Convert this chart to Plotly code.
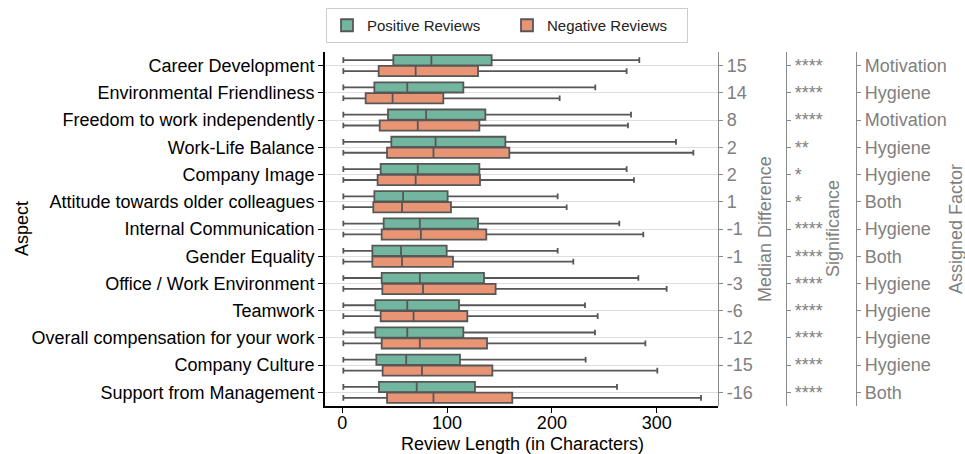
import plotly.graph_objects as go

aspects = ["Career Development", "Environmental Friendliness", "Freedom to work independently",
           "Work-Life Balance", "Company Image", "Attitude towards older colleagues",
           "Internal Communication", "Gender Equality", "Office / Work Environment", "Teamwork",
           "Overall compensation for your work", "Company Culture", "Support from Management"]

pos_min = [1, 1, 1, 1, 1, 1, 1, 1, 1, 1, 1, 1, 1]
pos_q1 = [48.7, 30.6, 43.6, 46.8, 36.6, 30.6, 39.5, 28.7, 37.6, 31.5, 31.5, 32.5, 35.0]
pos_med = [85, 62, 80, 89, 72, 58, 74, 56, 74, 62, 62, 61, 71]
pos_q3 = [142.5, 115.5, 136.5, 155.6, 130.8, 100.5, 129.5, 99.6, 135.2, 111.4, 115.5, 112.3, 126.6]
pos_max = [283.4, 241.4, 275.5, 318.4, 271.3, 205.5, 264.3, 205.5, 282.5, 231.6, 241.1, 232.2, 262.1]

neg_min = [1, 1, 1, 1, 1, 1, 1, 1, 1, 1, 1, 1, 1]
neg_q1 = [34.7, 22.3, 35.7, 42.7, 33.7, 29.6, 37.6, 28.7, 38.2, 36.6, 37.6, 38.5, 42.7]
neg_med = [70, 48, 72, 87, 70, 57, 75, 57, 77, 68, 74, 76, 87]
neg_q3 = [129.5, 96.4, 130.8, 159.4, 131.4, 103.7, 137.4, 105.6, 146.3, 119.3, 138.1, 143.2, 162.2]
neg_max = [271.3, 207.4, 272.6, 335.0, 278.3, 214.1, 287.2, 220.4, 309.5, 243.7, 289.2, 300.6, 342.3]

median_diff = ["15", "14", "8", "2", "2", "1", "-1", "-1", "-3", "-6", "-12", "-15", "-16"]
significance = ["****", "****", "****", "**", "*", "*", "****", "****", "****", "****", "****", "****", "****"]
factor = ["Motivation", "Hygiene", "Motivation", "Hygiene", "Hygiene", "Both", "Hygiene", "Both",
          "Hygiene", "Hygiene", "Hygiene", "Hygiene", "Both"]

x_ticks = [0, 100, 200, 300]

W, H = 965, 454
ML, MR, MT, MB = 325, 10, 52, 48
PW = W - ML - MR
PH = H - MT - MB


def xp(px):
    return (px - ML) / PW


def yp(py):
    return (H - MB - py) / PH


FONT = "Liberation Sans, Arial, sans-serif"
GREEN = "#72b6a0"
ORANGE = "#e99575"
LINE = "#575757"
GREY = "#8a8a8a"
TXT_GREY = "#7f7f7f"

fig = go.Figure()
fig.add_trace(go.Box(
    name="Positive Reviews", y=aspects, orientation="h",
    q1=pos_q1, median=pos_med, q3=pos_q3, lowerfence=pos_min, upperfence=pos_max,
    fillcolor=GREEN, line=dict(color=LINE, width=1.8), boxpoints=False, whiskerwidth=0.55,
))
fig.add_trace(go.Box(
    name="Negative Reviews", y=aspects, orientation="h",
    q1=neg_q1, median=neg_med, q3=neg_q3, lowerfence=neg_min, upperfence=neg_max,
    fillcolor=ORANGE, line=dict(color=LINE, width=1.8), boxpoints=False, whiskerwidth=0.55,
))

idx = list(range(len(aspects)))
for ax in ["y2", "y3", "y4"]:
    fig.add_trace(go.Scatter(x=[None] * len(idx), y=idx, yaxis=ax, mode="markers",
                             showlegend=False, hoverinfo="skip"))

n = len(aspects)
xdom_end = xp(718)
right_axis = dict(
    overlaying="y", side="right", anchor="free", range=[n - 0.5, -0.5],
    tickmode="array", tickvals=idx, showline=True, linecolor=GREY, linewidth=1.3,
    ticks="outside", ticklen=4, tickcolor=GREY, tickwidth=1, automargin=False,
    tickfont=dict(family=FONT, size=18, color=TXT_GREY), showgrid=False, zeroline=False,
)

fig.update_layout(
    width=W, height=H, plot_bgcolor="white", paper_bgcolor="white",
    margin=dict(l=ML, r=MR, t=MT, b=MB, autoexpand=False),
    font=dict(family=FONT, size=18, color="black"),
    boxmode="group", boxgap=0.2, boxgroupgap=0.06,
    xaxis=dict(domain=[0, xdom_end], range=[-16.5, 358.5], tickvals=x_ticks, automargin=False,
               showline=True, linecolor="black", linewidth=1.6, mirror=False,
               ticks="outside", ticklen=5, tickcolor="black", tickwidth=1.2,
               ticklabelstandoff=-5,
               showgrid=False, zeroline=False, tickfont=dict(size=18, color="black")),
    yaxis=dict(type="category", categoryorder="array", categoryarray=aspects, automargin=False,
               range=[n - 0.5, -0.5], showline=True, linecolor="black", linewidth=1.6,
               ticks="outside", ticklen=5, tickcolor="black", tickwidth=1.2,
               showgrid=True, gridcolor="#dedede", gridwidth=1,
               tickfont=dict(size=18, color="black")),
    yaxis2=dict(right_axis, position=xdom_end, ticktext=median_diff),
    yaxis3=dict(right_axis, position=xp(786), ticktext=significance),
    yaxis4=dict(right_axis, position=xp(856), ticktext=factor),
    legend=dict(orientation="h", x=xp(507), xanchor="center", y=1 + (MT - 8) / PH, yanchor="top",
                bordercolor="#cccccc", borderwidth=1, bgcolor="white",
                font=dict(family=FONT, size=15, color="#222222"),
                entrywidth=135, entrywidthmode="pixels"),
    showlegend=True,
)

annots = [
    dict(text="Aspect", x=xp(22), y=yp(229), textangle=-90, color="black"),
    dict(text="Review Length (in Characters)", x=xp(522), y=yp(444), textangle=0, color="black"),
    dict(text="Median Difference", x=xp(765), y=yp(229), textangle=-90, color=TXT_GREY),
    dict(text="Significance", x=xp(833), y=yp(229), textangle=-90, color=TXT_GREY),
    dict(text="Assigned Factor", x=xp(956), y=yp(229), textangle=-90, color=TXT_GREY),
]
for a in annots:
    fig.add_annotation(text=a["text"], x=a["x"], y=a["y"], xref="paper", yref="paper",
                       xanchor="center", yanchor="middle", showarrow=False, textangle=a["textangle"],
                       font=dict(family=FONT, size=18, color=a["color"]))

fig.write_html("out.html", config={"displayModeBar": False},
               post_script="document.body.style.margin='0px';")
